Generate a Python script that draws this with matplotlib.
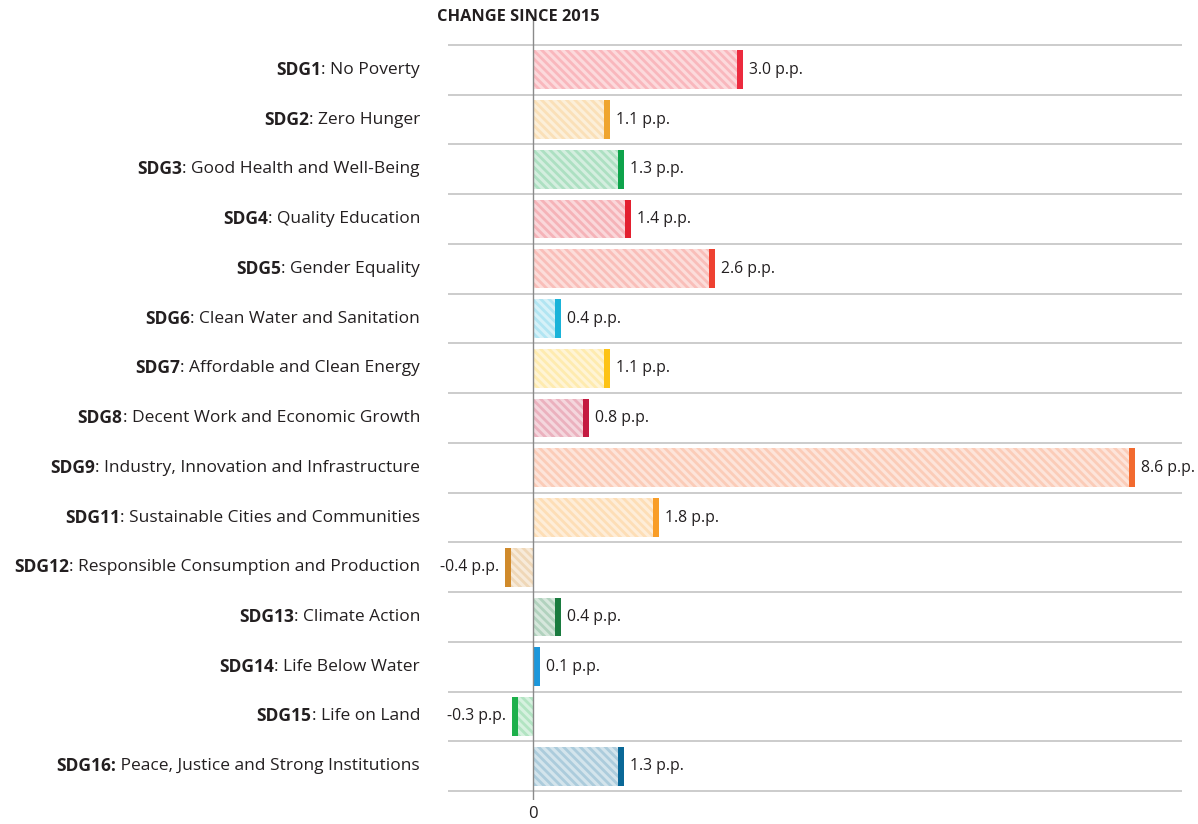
import matplotlib
matplotlib.use("Agg")
import matplotlib.pyplot as plt
import matplotlib.colors as mcolors
import numpy as np

goal_ids = ["SDG1", "SDG2", "SDG3", "SDG4", "SDG5", "SDG6", "SDG7", "SDG8",
            "SDG9", "SDG11", "SDG12", "SDG13", "SDG14", "SDG15", "SDG16:"]
goal_names = [": No Poverty", ": Zero Hunger", ": Good Health and Well-Being",
              ": Quality Education", ": Gender Equality",
              ": Clean Water and Sanitation", ": Affordable and Clean Energy",
              ": Decent Work and Economic Growth",
              ": Industry, Innovation and Infrastructure",
              ": Sustainable Cities and Communities",
              ": Responsible Consumption and Production",
              ": Climate Action", ": Life Below Water", ": Life on Land",
              " Peace, Justice and Strong Institutions"]
changes = [3.0, 1.1, 1.3, 1.4, 2.6, 0.4, 1.1, 0.8, 8.6, 1.8, -0.4, 0.4, 0.1, -0.3, 1.3]
value_labels = ["3.0 p.p.", "1.1 p.p.", "1.3 p.p.", "1.4 p.p.", "2.6 p.p.",
                "0.4 p.p.", "1.1 p.p.", "0.8 p.p.", "8.6 p.p.", "1.8 p.p.",
                "-0.4 p.p.", "0.4 p.p.", "0.1 p.p.", "-0.3 p.p.", "1.3 p.p."]
goal_colors = ["#EC2A3E", "#EFA52E", "#0EA34B", "#E3202F", "#EE4131", "#1AB3D9",
               "#FDC315", "#C41A40", "#F26A2F", "#F99D27", "#D08A2B", "#1A7B3F",
               "#1C97DB", "#1DB04B", "#0A6897"]

title = "CHANGE SINCE 2015"

TEXT = "#231F20"
FONT = "Open Sans"
plt.rcParams["font.family"] = [FONT, "DejaVu Sans"]
plt.rcParams["hatch.linewidth"] = 2.0

W, H = 1198, 824
fig = plt.figure(figsize=(W / 100, H / 100), dpi=100)

ax_left, ax_right = 448, 1182
ax_top, ax_bot = 20, 800
ax = fig.add_axes([ax_left / W, 1 - ax_bot / H, (ax_right - ax_left) / W, (ax_bot - ax_top) / H])

n = len(changes)
ypos = np.arange(n)
xmin, xmax = -1.214, 9.27
ax.set_xlim(xmin, xmax)
ax.set_ylim(14.68, -1.003)

def mix(c, f):
    r = np.array(mcolors.to_rgb(c))
    return tuple(1 - f * (1 - r))

bar_h = 0.78
cap_w = 0.088
HATCH = "\\" * 4
for i, (v, c) in enumerate(zip(changes, goal_colors)):
    if v >= 0:
        left, width = 0, v - cap_w
        cap_left = v - cap_w
    else:
        left, width = v + cap_w, -v - cap_w
        cap_left = v
    ax.barh(i, width, left=left, height=bar_h, color=mix(c, 0.18),
            edgecolor=mix(c, 0.34), linewidth=0, hatch=HATCH, zorder=2)
    ax.barh(i, cap_w, left=cap_left, height=bar_h, color=c, linewidth=0, zorder=3)
    if v >= 0:
        ax.annotate(value_labels[i], (v, i), xytext=(4.5, 0), textcoords="offset points",
                    ha="left", va="center", fontsize=11.3, color=TEXT)
    else:
        ax.annotate(value_labels[i], (v, i), xytext=(-4.5, 0), textcoords="offset points",
                    ha="right", va="center", fontsize=11.3, color=TEXT)

for b in np.arange(-0.5, n, 1.0):
    ax.axhline(b, color="#C8C8C8", linewidth=1.3, zorder=1)
ax.axvline(0, color="#8A8A8A", linewidth=1.0, zorder=4)

for s in ax.spines.values():
    s.set_visible(False)
ax.set_yticks([])
ax.set_xticks([0])
ax.set_xticklabels(["0"], fontsize=12, color=TEXT)
ax.tick_params(axis="x", length=0, pad=4)

fig.text(437 / W, 1 - 17 / H, title, ha="left", va="center", fontsize=11.8,
         fontweight="bold", color=TEXT)

# category labels: bold id + regular name, right aligned
fig.canvas.draw()
renderer = fig.canvas.get_renderer()
label_x = 420
for i in range(n):
    yfig = ax.transData.transform((0, i))[1]
    t = fig.text(label_x / W, yfig / H, goal_names[i], ha="right", va="center",
                 fontsize=12.5, color=TEXT)
    bb = t.get_window_extent(renderer)
    fig.text(bb.x0 / W, yfig / H, goal_ids[i], ha="right", va="center",
             fontsize=12.5, fontweight="bold", color=TEXT)

fig.savefig("out.png", dpi=100, facecolor="white")
